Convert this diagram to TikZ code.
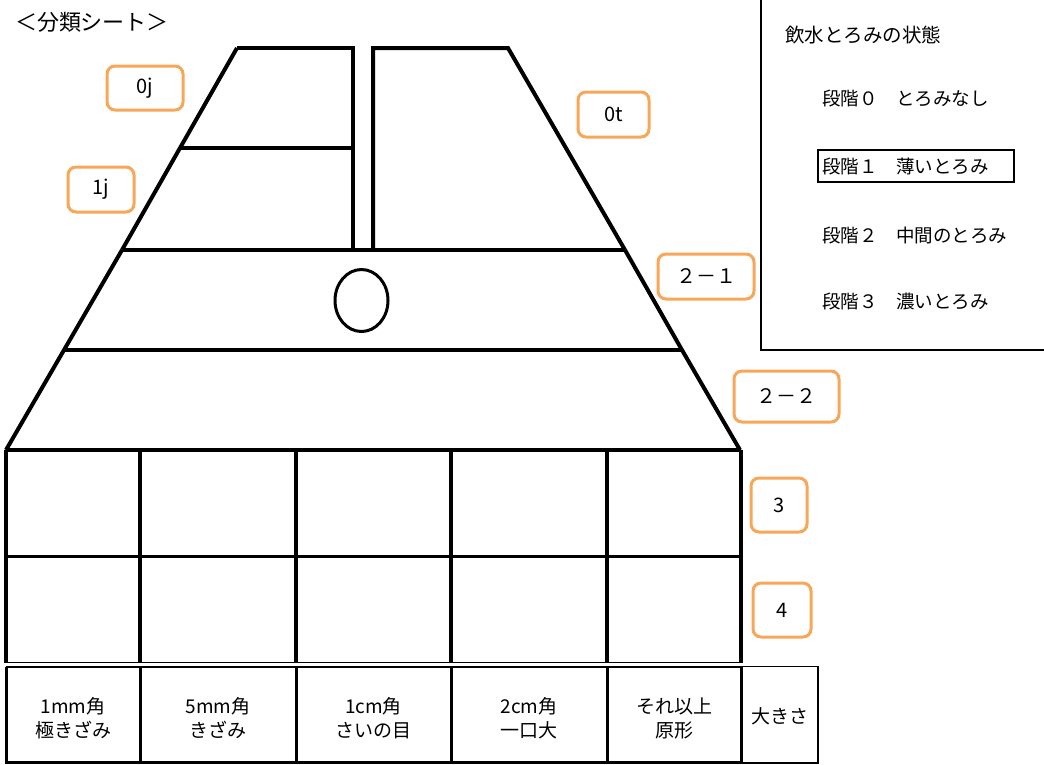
\documentclass[tikz,border=0pt]{standalone}
\usepackage{fontspec}
\setmainfont{Noto Sans CJK JP}
\definecolor{lbl}{RGB}{248,166,88}
\begin{document}
\begin{tikzpicture}[x=1pt,y=-1pt,
  shapeline/.style={line width=4pt,line join=miter},
  gridline/.style={line width=3.5pt},
  thinline/.style={line width=1.5pt},
  panelline/.style={line width=2pt},
  lblbox/.style={draw=lbl,line width=3pt,rounded corners=8pt,inner sep=0pt,font=\fontsize{20}{22}\selectfont},
  celltext/.style={align=center,inner sep=0pt,font=\fontsize{19}{24}\selectfont},
  paneltext/.style={anchor=west,inner sep=0pt,font=\fontsize{18.5}{20}\selectfont}]
\useasboundingbox (0,0) rectangle (1044,764);
% title
\node[inner sep=0pt,font=\fontsize{22}{24}\selectfont] (title) at (92,22) {＜分類シート＞};
% top pieces
\draw[shapeline] (237,48) -- (353,48) -- (353,250);
\draw[shapeline] (237,48) -- (180,148) -- (122,250);
\draw[shapeline] (180,148) -- (353,148);
\draw[shapeline] (373,250) -- (373,48) -- (508,48) -- (625,250);
\draw[shapeline] (122,250) -- (625,250);
% middle bands
\draw[shapeline] (122,250) -- (64,350) -- (6,450);
\draw[shapeline] (625,250) -- (682,350) -- (740,450);
\draw[shapeline] (64,350) -- (682,350);
\draw[shapeline] (6,450) -- (741,450);
\draw[line width=3pt] (361.5,300.5) ellipse [x radius=26.5,y radius=31];
% grid
\foreach \x in {6,140,296,451,607,741}{
  \draw[gridline] (\x,450) -- (\x,663);
  \draw[line width=3pt] (\x,667) -- (\x,764);
}
\draw[gridline] (6,556.5) -- (741,556.5);
\draw[thinline] (6,662.5) -- (741,662.5);
\draw[thinline] (6,667) -- (741,667);
\draw[line width=3pt] (6,762.5) -- (741,762.5);
\draw[thinline] (741,666.5) rectangle (818,763);
% bottom labels
\node[celltext] (c1) at (73,718) {1mm角\\極きざみ};
\node[celltext] (c2) at (218,718) {5mm角\\きざみ};
\node[celltext] (c3) at (373.5,718) {1cm角\\さいの目};
\node[celltext] (c4) at (529,718) {2cm角\\一口大};
\node[celltext] (c5) at (674,718) {それ以上\\原形};
\node[celltext] (c6) at (779.5,716) {大きさ};
% orange labels
\node[lblbox,minimum width=76pt,minimum height=44pt] (l0j) at (145,88) {0j};
\node[lblbox,minimum width=66pt,minimum height=45pt] (l1j) at (101,189.5) {1j};
\node[lblbox,minimum width=71pt,minimum height=45pt] (l0t) at (613.5,114.5) {0t};
\node[lblbox,minimum width=96pt,minimum height=45pt] (l21) at (706,276.5) {２－１};
\node[lblbox,minimum width=105pt,minimum height=51pt] (l22) at (786.5,396.5) {２－２};
\node[lblbox,minimum width=56pt,minimum height=54pt] (l3) at (779,505) {3};
\node[lblbox,minimum width=58pt,minimum height=54pt] (l4) at (782,610) {4};
% right panel
\draw[panelline] (761,0) -- (761,349.5) -- (1044,349.5);
\node[paneltext,font=\fontsize{19.5}{22}\selectfont] (ph) at (785,35) {飲水とろみの状態};
\node[paneltext] (p0) at (822,98.5) {段階０　とろみなし};
\draw[panelline] (818,150) rectangle (1014,182);
\node[paneltext] (p1) at (822,166.5) {段階１　薄いとろみ};
\node[paneltext] (p2) at (822,235) {段階２　中間のとろみ};
\node[paneltext] (p3) at (822,301) {段階３　濃いとろみ};
\end{tikzpicture}
\end{document}
